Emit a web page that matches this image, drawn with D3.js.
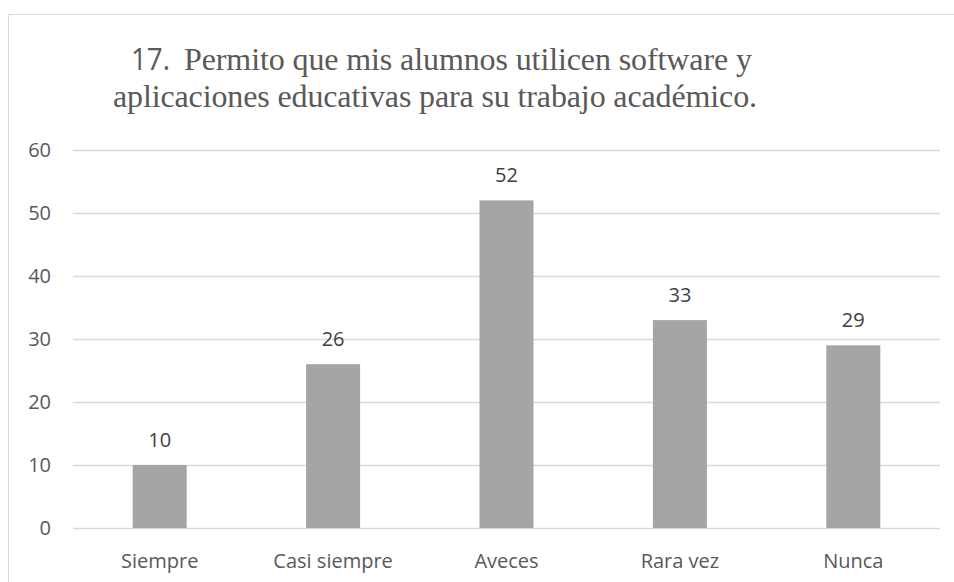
<!DOCTYPE html>
<html><head><meta charset="utf-8">
<script src="https://cdn.jsdelivr.net/npm/d3@7"></script>
<style>body{margin:0;background:#fff}svg{display:block}</style>
</head><body>
<svg id="c" width="954" height="582"></svg>
<script>
const categories = ["Siempre","Casi siempre","Aveces","Rara vez","Nunca"];
const values = [10,26,52,33,29];
const yTicks = [0,10,20,30,40,50,60];
const titleNum = "17.";
const titleLine1 = "Permito que mis alumnos utilicen software y";
const titleLine2 = "aplicaciones educativas para su trabajo académico.";

const svg = d3.select("#c");
const W = 954, H = 582;
const m = {left:73, right:14, top:150, bottom:54};
const x = d3.scaleBand().domain(categories).range([m.left, W - m.right]).padding(0);
const y = d3.scaleLinear().domain([0,60]).range([H - m.bottom, m.top]);

// frame
svg.append("path").attr("d", `M8.5,${H}V14.5H${W}`).attr("fill","none").attr("stroke","#d9d9d9").attr("stroke-width",1);

// gridlines
svg.append("g").selectAll("line").data(yTicks).join("line")
  .attr("x1", m.left).attr("x2", W - m.right)
  .attr("y1", d => Math.round(y(d)) + 0.5).attr("y2", d => Math.round(y(d)) + 0.5)
  .attr("stroke","#d9d9d9").attr("stroke-width",1.3);

const font = "'Open Sans', sans-serif";
const serif = "'Liberation Serif', 'Times New Roman', serif";
// y axis labels
svg.append("g").selectAll("text").data(yTicks).join("text")
  .attr("x", 51).attr("y", d => y(d)).attr("dy","0.36em")
  .attr("text-anchor","end").attr("font-family",font).attr("font-size",20).attr("fill","#595959")
  .text(d => d);

// bars
const bw = 54;
svg.append("g").selectAll("rect").data(values).join("rect")
  .attr("x", (d,i) => x(categories[i]) + x.bandwidth()/2 - bw/2)
  .attr("width", bw)
  .attr("y", d => y(d)).attr("height", d => y(0) - y(d))
  .attr("fill","#a5a5a5");

// value labels
svg.append("g").selectAll("text").data(values).join("text")
  .attr("x", (d,i) => x(categories[i]) + x.bandwidth()/2)
  .attr("y", d => y(d) - 18)
  .attr("text-anchor","middle").attr("font-family",font).attr("font-size",20).attr("fill","#404040")
  .text(d => d);

// category labels
svg.append("g").selectAll("text").data(categories).join("text")
  .attr("x", d => x(d) + x.bandwidth()/2).attr("y", 568)
  .attr("text-anchor","middle").attr("font-family",font).attr("font-size",20).attr("fill","#595959")
  .text(d => d);

// title
svg.append("text").attr("x", 131).attr("y", 70).attr("fill","#595959")
  .attr("font-family",font).attr("font-size",31)
  .attr("textLength",39).attr("lengthAdjust","spacingAndGlyphs").text(titleNum);
svg.append("text").attr("x", 184).attr("y", 70).attr("fill","#595959")
  .attr("font-family",serif).attr("font-size",32)
  .attr("textLength",568).attr("lengthAdjust","spacing").text(titleLine1);
svg.append("text").attr("x", 113).attr("y", 107).attr("fill","#595959")
  .attr("font-family",serif).attr("font-size",32)
  .attr("textLength",644).attr("lengthAdjust","spacing").text(titleLine2);
</script>
</body></html>
